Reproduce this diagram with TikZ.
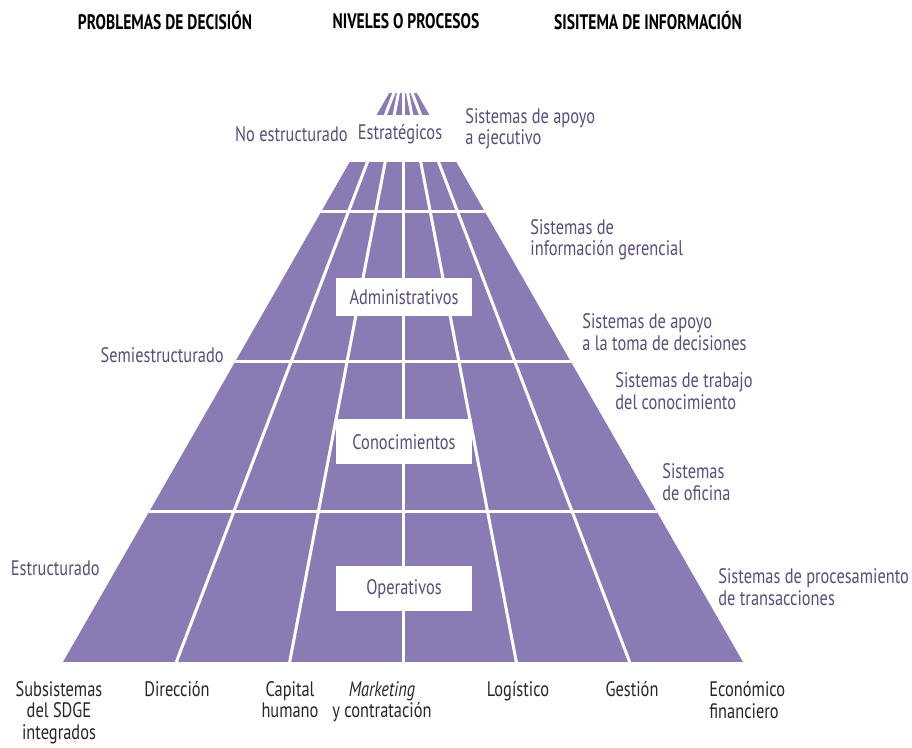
\documentclass[tikz,border=0pt]{standalone}
\usepackage{fontspec}
\setmainfont{PT Sans}[FakeStretch=0.78]
\newfontfamily\headfont{PT Sans}[FakeStretch=0.74]
\usetikzlibrary{calc}
\definecolor{piramide}{HTML}{8A7BB5}
\definecolor{etiqueta}{HTML}{5A4D7A}

\begin{document}
\begin{tikzpicture}
[x=0.5pt, y=-0.5pt,
titulo/.style={font=\headfont\bfseries\fontsize{10.5}{12}\selectfont, inner sep=0pt},
etq/.style={font=\fontsize{10.5}{10.75}\selectfont, text=etiqueta, inner sep=0pt, align=left},
area/.style={font=\fontsize{10.5}{10.75}\selectfont, text=black!85, inner sep=0pt, align=center},
nivel/.style={fill=white, text=etiqueta, font=\fontsize{10.5}{10.75}\selectfont,
  minimum width=68pt, minimum height=22.5pt, inner sep=0pt},
sep/.style={white, line width=1.5pt}]
\useasboundingbox (0,0) rectangle (912,748);

% piramide
\coordinate (cima) at (403,69);
\coordinate (bi) at (63,662);
\coordinate (bd) at (743,662);
\fill[piramide] (cima) -- (bi) -- (bd) -- cycle;
\begin{scope}
\clip (cima) -- (bi) -- (bd) -- cycle;
\foreach \y in {212,362,512}
  \draw[sep] (0,\y) -- (912,\y);
\end{scope}
\foreach \k in {1,...,5}
  \draw[sep] (cima) -- ($(bi)!\k/6!(bd)$);
% franjas blancas arriba
\fill[white] (0,0) rectangle (912,93);
\fill[white] (0,115) rectangle (912,162);

% titulos
\node (tprob) at (165,21) [titulo] {PROBLEMAS DE DECISIÓN};
\node (tniv) at (406,21) [titulo] {NIVELES O PROCESOS};
\node (tsis) at (648,21) [titulo] {SISITEMA DE INFORMACIÓN};

% niveles
\node (estrat) at (400,134) [etq, anchor=center] {Estratégicos};
\node (admin) at (404,297) [nivel, minimum height=19pt] {Administrativos};
\node (conoc) at (404,442) [nivel] {Conocimientos};
\node (oper) at (404,589) [nivel] {Operativos};

% problemas
\node (noest) at (348,134) [etq, anchor=east] {No estructurado};
\node (semi) at (224,355) [etq, anchor=east] {Semiestructurado};
\node (estruc) at (100,568) [etq, anchor=east] {Estructurado};

% sistemas
\node (sae) at (465,129) [etq, anchor=west] {Sistemas de apoyo\\a ejecutivo};
\node (sig) at (530,240) [etq, anchor=west] {Sistemas de\\información gerencial};
\node (sad) at (582,332) [etq, anchor=west] {Sistemas de apoyo\\a la toma de decisiones};
\node (stc) at (615,391) [etq, anchor=west] {Sistemas de trabajo\\del conocimiento};
\node (sof) at (662,482) [etq, anchor=west] {Sistemas\\de oficina};
\node (spt) at (718,587) [etq, anchor=west] {Sistemas de procesamiento\\de transacciones};

% subsistemas
\node (subs) at (59,681) [area, anchor=north] {Subsistemas\\del SDGE\\integrados};
\node (dir) at (177,681) [area, anchor=north] {Dirección};
\node (cap) at (290,681) [area, anchor=north] {Capital\\humano};
\node (mkt) at (382,681) [area, anchor=north] {\textit{Marketing}\\y contratación};
\node (log) at (518,681) [area, anchor=north] {Logístico};
\node (ges) at (632,681) [area, anchor=north] {Gestión};
\node (eco) at (709,681) [area, anchor=north west, align=left] {Económico\\financiero};
\end{tikzpicture}
\end{document}
